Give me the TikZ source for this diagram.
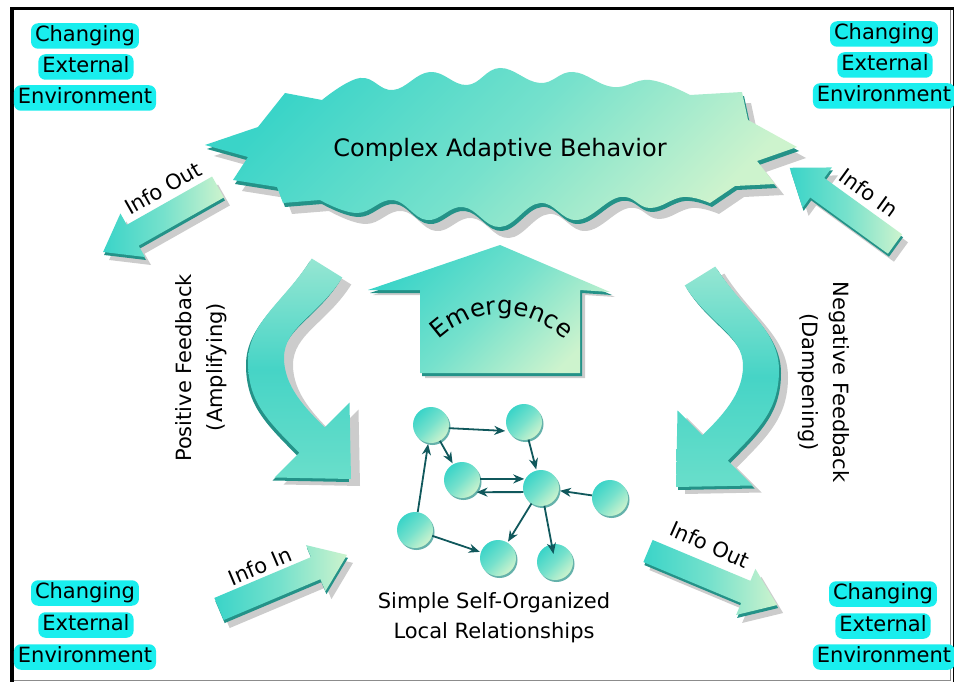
\documentclass[tikz,border=0pt]{standalone}
\usepackage{fontspec}
\setmainfont{DejaVu Sans}
\usetikzlibrary{arrows.meta,decorations.text,shadows,calc}
\definecolor{turq}{RGB}{58,212,200}
\definecolor{turqmid}{RGB}{118,225,204}
\definecolor{pale}{RGB}{205,243,205}
\definecolor{deep}{RGB}{36,146,136}
\definecolor{glow}{RGB}{25,238,238}
\definecolor{edgec}{RGB}{16,88,92}
\definecolor{curvetop}{RGB}{150,230,210}
\definecolor{curvemid}{RGB}{70,212,198}
\definecolor{curvebot}{RGB}{105,222,202}
\tikzset{
  gradfill/.style={top color=turq, bottom color=pale, middle color=turqmid, shading angle=45},
  arrowfill/.style={left color=turq, right color=pale, middle color=turqmid},
  curvefill/.style={top color=curvetop, bottom color=curvebot, middle color=curvemid},
  shadowfill/.style={fill=black, opacity=0.2},
  depthfill/.style={fill=deep},
  env/.style={fill=glow, rounded corners=7pt, inner xsep=4pt, inner ysep=3pt,
    text height=15pt, text depth=4.5pt, font=\fontsize{21}{25}\selectfont},
  lbl/.style={font=\fontsize{21}{25}\selectfont},
  infolbl/.style={font=\fontsize{21}{25}\selectfont},
  bubble/.style={circle, minimum size=36pt, inner sep=0pt, gradfill,
    drop shadow={shadow xshift=1.5pt, shadow yshift=-2pt, fill=deep, opacity=0.7}},
  net/.style={draw=edgec, line width=1.8pt, -{Stealth[length=11pt,width=9pt]}, shorten >=1pt},
}
% starburst
\newcommand\burstshape[1]{\path[#1] (205,145) -- (258,127) -- (285,93) --
  plot[smooth,tension=0.7] coordinates {(322,100) (360,78) (393,90) (430,72) (467,85) (500,68) (540,83) (573,72) (613,87) (650,80) (690,95)}
  -- (742,92) -- (748,120) -- (797,147) -- (757,161) -- (775,184) -- (735,186) --
  plot[smooth,tension=0.7] coordinates {(710,203) (683,197) (650,208) (620,197) (577,220) (540,203) (500,227) (463,207) (427,220) (393,200) (357,213) (320,200)}
  -- (283,203) -- (277,187) -- (233,180) -- (248,157) -- cycle;}
% curved feedback arrows
\newcommand\leftcurve[1]{\path[#1] (311.7,258.5) .. controls (285,301) and (248,322) .. (248,362)
  .. controls (248,402) and (268,421) .. (299.3,452.7) -- (274.5,477.5) -- (351,479) -- (349.5,402.5)
  -- (324.7,427.3) .. controls (305,408) and (284,386) .. (284,358) .. controls (284,327) and (318,316) .. (342.3,277.5) -- cycle;}
\newcommand\rightcurve[1]{\path[#1] (715.3,266.5) .. controls (742,309) and (779,330) .. (779,370)
  .. controls (779,410) and (759,429) .. (727.7,460.7) -- (752.5,485.5) -- (676,487) -- (677.5,410.5)
  -- (702.3,435.3) .. controls (722,416) and (743,394) .. (743,366) .. controls (743,335) and (709,324) .. (684.7,285.5) -- cycle;}
% emergence arrow
\newcommand\emergeshape[1]{\path[#1] (500,245) -- (610,292) -- (580,290) -- (580,373) -- (420,373) -- (420,290) -- (368,290) -- cycle;}
% straight block arrow: #1 options, #2 tail, #3 angle, #4 length
\newcommand\blockarrow[4]{\path[#1, shift={(#2)}, rotate=#3] (0,-12) -- ({#4-34},-12) -- ({#4-34},-25) -- (#4,0) -- ({#4-34},25) -- ({#4-34},12) -- (0,12) -- cycle;}
\begin{document}
\begin{tikzpicture}[x=1pt,y=-1pt]
\useasboundingbox (0,0) rectangle (954,682);
\fill[white] (0,0) rectangle (954,682);
% frame
\draw[black, line width=3pt] (10,8.5) -- (954,8.5);
\draw[black, line width=4pt] (12,8) -- (12,682);
\draw[black!45, line width=1.2pt] (950.5,10) -- (950.5,680.5) -- (14,680.5);
\draw[black, line width=2pt] (953.5,7) -- (953.5,682);

% starburst
\burstshape{shadowfill, shift={(9,11)}}
\burstshape{depthfill, shift={(2,4)}}
\burstshape{gradfill}
\node[font=\fontsize{24}{28}\selectfont] (cab) at (500,150) {Complex Adaptive Behavior};

% emergence
\emergeshape{shadowfill, shift={(5,5)}}
\emergeshape{depthfill, shift={(2,3)}}
\emergeshape{gradfill}
\path[decorate, decoration={text along path, text={|\fontsize{24.5}{29}\selectfont|Emergence}, text align=center}]
  (432,347) .. controls (472,303) and (530,303) .. (572,347);

% curved arrows
\leftcurve{shadowfill, shift={(9,7)}}
\leftcurve{depthfill, shift={(-2,3)}}
\leftcurve{curvefill}
\rightcurve{shadowfill, shift={(9,7)}}
\rightcurve{depthfill, shift={(2,3)}}
\rightcurve{curvefill}

% info arrows
\blockarrow{shadowfill, shift={(6,8)}}{218,187}{209.5}{132}
\blockarrow{depthfill, shift={(1,3)}}{218,187}{209.5}{132}
\blockarrow{arrowfill}{218,187}{209.5}{132}
\blockarrow{shadowfill, shift={(6,8)}}{895,244}{144.1}{130}
\blockarrow{depthfill, shift={(1,3)}}{895,244}{144.1}{130}
\blockarrow{arrowfill}{895,244}{144.1}{130}
\blockarrow{shadowfill, shift={(6,8)}}{219,609}{22.9}{139}
\blockarrow{depthfill, shift={(1,3)}}{219,609}{22.9}{139}
\blockarrow{arrowfill}{219,609}{22.9}{139}
\blockarrow{shadowfill, shift={(6,8)}}{648,551}{-22.7}{140}
\blockarrow{depthfill, shift={(1,3)}}{648,551}{-22.7}{140}
\blockarrow{arrowfill}{648,551}{-22.7}{140}

\node[infolbl, rotate=29.5] (io1) at (163,188) {Info Out};
\node[infolbl, rotate=-36] (ii1) at (869,193) {Info In};
\node[infolbl, rotate=23] (ii2) at (260,566) {Info In};
\node[infolbl, rotate=-24] (io2) at (710,545) {Info Out};

% feedback labels
\node[lbl, rotate=90] (pf) at (184,368) {Positive Feedback};
\node[lbl, rotate=90] (amp) at (217,367) {(Amplifying)};
\node[lbl, rotate=-90] (nf) at (839,382) {Negative Feedback};
\node[lbl, rotate=-90] (damp) at (808,382) {(Dampening)};

% environment labels
\node[env] (e1a) at (85,36) {Changing};
\node[env] (e1b) at (86,67) {External};
\node[env] (e1c) at (85,98) {Environment};
\node[env] (e2a) at (884,34) {Changing};
\node[env] (e2b) at (885,65) {External};
\node[env] (e2c) at (884,96) {Environment};
\node[env] (e3a) at (85,593) {Changing};
\node[env] (e3b) at (86,625) {External};
\node[env] (e3c) at (85,657) {Environment};
\node[env] (e4a) at (883,594) {Changing};
\node[env] (e4b) at (883,626) {External};
\node[env] (e4c) at (884,657) {Environment};

% network
\node[bubble] (n1) at (431,425) {};
\node[bubble] (n2) at (524,422) {};
\node[bubble] (n3) at (462,480) {};
\node[bubble] (n4) at (541,488) {};
\node[bubble] (n5) at (610,498) {};
\node[bubble] (n6) at (415,530) {};
\node[bubble] (n7) at (498,558) {};
\node[bubble] (n8) at (555,562) {};
\draw[net, shorten >=3pt] (n1.350) -- (n2.210);
\draw[net] (n2) -- (n4);
\draw[net] (n1) -- (n3);
\draw[net] ([yshift=1pt]n3.east) -- (n4.150);
\draw[net] (n4.193) -- (n3.318);
\draw[net] (n5) -- (n4);
\draw[net] (n6) -- (n1);
\draw[net] (n6) -- (n7);
\draw[net] (n4) -- (n7);
\draw[net, shorten >=-10pt] (n4) -- (n8);

\node[lbl, align=center, font=\fontsize{21}{30}\selectfont] (simple) at (494,618) {Simple Self-Organized\\Local Relationships};
\end{tikzpicture}
\end{document}
